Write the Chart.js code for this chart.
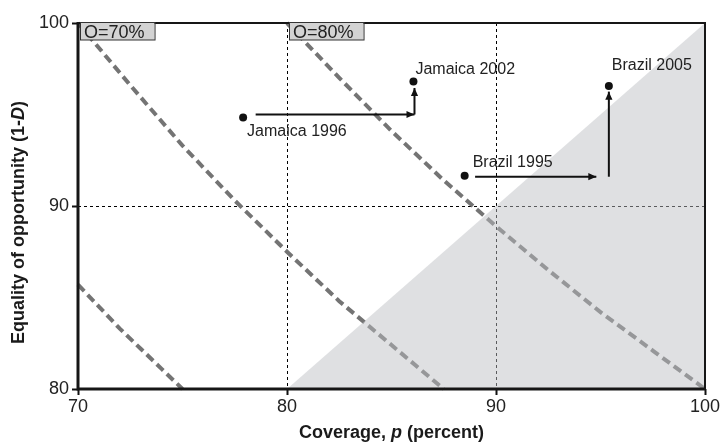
<!DOCTYPE html>
<html>
<head>
<meta charset="utf-8">
<script src="https://cdn.jsdelivr.net/npm/chart.js@4.4.1/dist/chart.umd.min.js"></script>
<style>
  html, body { margin: 0; padding: 0; background: #fff; }
  #wrap { width: 722px; height: 445px; }
</style>
</head>
<body>
<div id="wrap"><canvas id="c" width="722" height="445"></canvas></div>
<script>
// Axis ticks
const coverageTicks = [70, 80, 90, 100];
const equalityTicks = [80, 90, 100];

// Iso-opportunity curves (O = coverage x equality)
const isoLabels = ['O=70%', 'O=80%'];
const isoLabelAt = [70, 80];
const iso60Coverage = [70, 71, 72, 73, 74, 75];
const iso60Equality = [85.7, 84.5, 83.3, 82.2, 81.1, 80.0];
const iso70Coverage = [70, 72.5, 75, 77.5, 80, 82.5, 85, 87.5];
const iso70Equality = [100, 96.6, 93.3, 90.3, 87.5, 84.8, 82.4, 80.0];
const iso80Coverage = [80, 82.5, 85, 87.5, 90, 92.5, 95, 97.5, 100];
const iso80Equality = [100, 97.0, 94.1, 91.4, 88.9, 86.5, 84.2, 82.1, 80.0];

// Region where coverage exceeds equality
const diagCoverage = [80, 100];
const diagEquality = [80, 100];

// Country observations
const countryNames = ['Jamaica 1996', 'Jamaica 2002', 'Brazil 1995', 'Brazil 2005'];
const countryCoverage = [77.9, 86.05, 88.5, 95.4];
const countryEquality = [94.83, 96.8, 91.65, 96.56];

// Movement arrows between survey years
const jamHorizCoverage = [78.5, 86.1];
const jamHorizEquality = [95.0, 95.0];
const jamVertCoverage = [86.1, 86.1];
const jamVertEquality = [95.0, 96.45];
const braHorizCoverage = [89.0, 94.8];
const braHorizEquality = [91.6, 91.6];
const braVertCoverage = [95.4, 95.4];
const braVertEquality = [91.6, 96.25];

const FONT = '"Liberation Sans", Arial, Helvetica, sans-serif';
const pts = (xs, ys) => xs.map((x, i) => ({ x: x, y: ys[i] }));

// label placement relative to each observation (pixels)
const nameOffsets = [[4, 18], [2, -8], [8, -9], [3, -16]];

function isoSet(xs, ys) {
  return {
    data: pts(xs, ys), showLine: true, pointRadius: 0, borderColor: '#747474',
    borderWidth: 4, borderDash: [9, 5], fill: false, order: 3, clip: false
  };
}
function arrowSet(xs, ys) {
  return {
    data: pts(xs, ys), showLine: true, pointRadius: 0, borderColor: '#111',
    borderWidth: 2, fill: false, order: 1, arrowHead: true
  };
}

const decorations = {
  id: 'decorations',
  beforeDatasetsDraw(chart) {
    const { ctx, chartArea: a, scales: { x, y } } = chart;
    ctx.save();
    ctx.strokeStyle = '#000';
    ctx.lineWidth = 1;
    ctx.setLineDash([3, 3]);
    [80, 90].forEach(v => {
      const px = Math.round(x.getPixelForValue(v)) + 0.5;
      ctx.beginPath(); ctx.moveTo(px, a.top); ctx.lineTo(px, a.bottom); ctx.stroke();
    });
    const py = Math.round(y.getPixelForValue(90)) + 0.5;
    ctx.beginPath(); ctx.moveTo(a.left, py); ctx.lineTo(a.right, py); ctx.stroke();
    ctx.restore();
  },
  afterDatasetsDraw(chart) {
    const { ctx, chartArea: a, scales: { x, y } } = chart;
    ctx.save();
    // arrowheads
    chart.data.datasets.forEach((ds, i) => {
      if (!ds.arrowHead) return;
      const d = chart.getDatasetMeta(i).data;
      const tip = d[d.length - 1], prev = d[d.length - 2];
      const ang = Math.atan2(tip.y - prev.y, tip.x - prev.x);
      const L = 8, W = 3.6;
      const bx = tip.x - L * Math.cos(ang), by = tip.y - L * Math.sin(ang);
      ctx.fillStyle = '#111';
      ctx.beginPath();
      ctx.moveTo(tip.x, tip.y);
      ctx.lineTo(bx - W * Math.sin(ang), by + W * Math.cos(ang));
      ctx.lineTo(bx + W * Math.sin(ang), by - W * Math.cos(ang));
      ctx.closePath(); ctx.fill();
    });
    // observation names
    const meta = chart.getDatasetMeta(0);
    ctx.fillStyle = '#222';
    ctx.font = '16px ' + FONT;
    ctx.textBaseline = 'alphabetic';
    ctx.textAlign = 'left';
    meta.data.forEach((p, i) => {
      ctx.fillText(countryNames[i], p.x + nameOffsets[i][0], p.y + nameOffsets[i][1]);
    });
    // plot frame
    ctx.strokeStyle = '#161616';
    ctx.setLineDash([]);
    ctx.lineWidth = 2;
    ctx.beginPath(); ctx.moveTo(a.left, a.top); ctx.lineTo(a.right, a.top); ctx.lineTo(a.right, a.bottom); ctx.stroke();
    ctx.lineWidth = 3;
    ctx.beginPath(); ctx.moveTo(a.left, a.top - 1); ctx.lineTo(a.left, a.bottom); ctx.lineTo(a.right + 1, a.bottom); ctx.stroke();
    // iso-curve tags
    ctx.font = '18px ' + FONT;
    isoLabels.forEach((t, i) => {
      const px = x.getPixelForValue(isoLabelAt[i]) + 2;
      const w = ctx.measureText(t).width + 14;
      ctx.fillStyle = '#d3d3d3';
      ctx.fillRect(px, a.top, w, 17);
      ctx.lineWidth = 1;
      ctx.strokeStyle = '#333';
      ctx.strokeRect(px + 0.5, a.top - 0.5, w, 17.5);
      ctx.fillStyle = '#222';
      ctx.fillText(t, px + 4, a.top + 15);
    });
    ctx.restore();
  },
  afterDraw(chart) {
    const { ctx, chartArea: a } = chart;
    ctx.save();
    ctx.fillStyle = '#1a1a1a';
    ctx.textBaseline = 'alphabetic';
    ctx.textAlign = 'left';
    const drawMixed = (parts, cx, cy) => {
      const fonts = parts.map(p => (p[1] ? 'italic ' : '') + 'bold 18px ' + FONT);
      const ws = parts.map((p, i) => { ctx.font = fonts[i]; return ctx.measureText(p[0]).width; });
      let px = cx - ws.reduce((s, v) => s + v, 0) / 2;
      parts.forEach((p, i) => { ctx.font = fonts[i]; ctx.fillText(p[0], px, cy); px += ws[i]; });
    };
    drawMixed([['Coverage, ', false], ['p', true], [' (percent)', false]], (a.left + a.right) / 2, 438);
    ctx.translate(24, chart.height / 2);
    ctx.rotate(-Math.PI / 2);
    drawMixed([['Equality of opportunity (1-', false], ['D', true], [')', false]], 0, 0);
    ctx.restore();
  }
};

new Chart(document.getElementById('c'), {
  type: 'scatter',
  data: {
    datasets: [
      {
        data: pts(countryCoverage, countryEquality), pointRadius: 4, pointHoverRadius: 4,
        backgroundColor: '#111', borderColor: '#111', borderWidth: 0, order: 0
      },
      arrowSet(jamHorizCoverage, jamHorizEquality),
      arrowSet(jamVertCoverage, jamVertEquality),
      arrowSet(braHorizCoverage, braHorizEquality),
      arrowSet(braVertCoverage, braVertEquality),
      {
        data: pts(diagCoverage, diagEquality), showLine: true, pointRadius: 0,
        borderColor: 'transparent', borderWidth: 1, fill: 'start',
        backgroundColor: 'rgba(188,190,194,0.48)', order: 2
      },
      isoSet(iso60Coverage, iso60Equality),
      isoSet(iso70Coverage, iso70Equality),
      isoSet(iso80Coverage, iso80Equality)
    ]
  },
  options: {
    responsive: false,
    animation: false,
    devicePixelRatio: 1,
    layout: { padding: { left: 0, top: 23, right: 17, bottom: 0 } },
    plugins: { legend: { display: false }, tooltip: { enabled: false } },
    scales: {
      x: {
        type: 'linear', min: 70, max: 100,
        afterBuildTicks: s => { s.ticks = coverageTicks.map(v => ({ value: v })); },
        afterFit: s => { s.height = 56; },
        grid: { drawOnChartArea: false, drawTicks: true, tickLength: 6, tickColor: '#111', tickWidth: 2 },
        border: { display: false },
        ticks: { font: { family: FONT, size: 18 }, color: '#222', padding: 1, maxRotation: 0 }
      },
      y: {
        type: 'linear', min: 80, max: 100,
        afterBuildTicks: s => { s.ticks = equalityTicks.map(v => ({ value: v })); },
        afterFit: s => { s.width = 78; },
        grid: { drawOnChartArea: false, drawTicks: true, tickLength: 6, tickColor: '#111', tickWidth: 2 },
        border: { display: false },
        ticks: { font: { family: FONT, size: 18 }, color: '#222', padding: 3 }
      }
    }
  },
  plugins: [decorations]
});
</script>
</body>
</html>
